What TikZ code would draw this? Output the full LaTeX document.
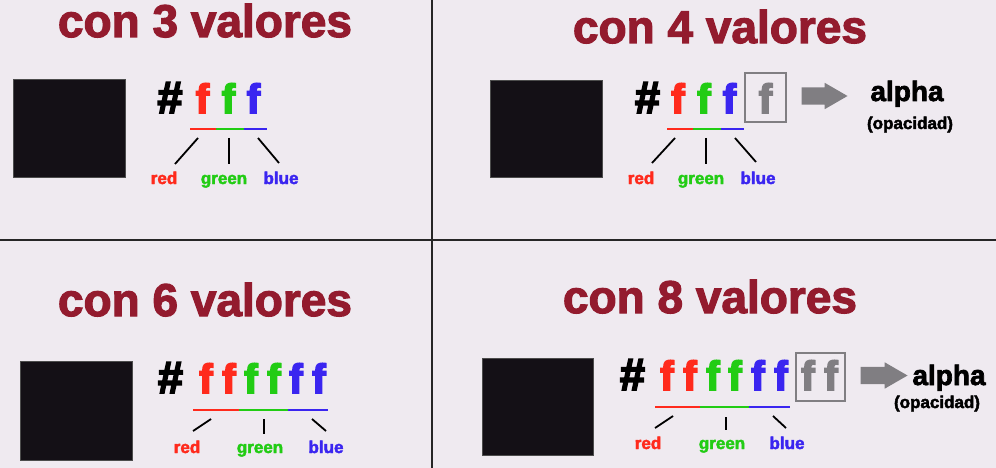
\documentclass[tikz,border=0pt]{standalone}
\usepackage{fontspec}
\setmainfont{Liberation Sans}[BoldFeatures={FakeBold=1.5}]
\newfontfamily\heavyfont{Liberation Sans}[BoldFeatures={FakeBold=4}]
\newfontfamily\titlefont{Liberation Sans}[BoldFeatures={FakeBold=2.5}]
\usepackage{tikz}
\usetikzlibrary{calc}
\usetikzlibrary{arrows}
\usetikzlibrary{shapes.arrows}
\definecolor{titlered}{HTML}{931B2E}
\definecolor{hexred}{HTML}{FF2A1C}
\definecolor{hexgreen}{HTML}{22CC14}
\definecolor{hexblue}{HTML}{3A25F0}
\definecolor{hexgray}{HTML}{807E82}
\definecolor{swatchblack}{HTML}{141016}
\definecolor{paper}{HTML}{EFEAF0}
\tikzstyle{every node}=[font=\bfseries, inner sep=0pt]
\tikzstyle{divider}=[line width=1.6pt, color=black!85]
\tikzstyle{title}=[anchor=base, text=titlered, font=\fontsize{46}{46}\titlefont\bfseries]
\tikzstyle{hexdigit}=[anchor=base, font=\fontsize{41}{41}\heavyfont\bfseries]
\tikzstyle{hashsign}=[anchor=base, font=\fontsize{45}{45}\heavyfont\bfseries]
\tikzstyle{channel}=[anchor=base, font=\fontsize{17}{17}\titlefont\bfseries]
\tikzstyle{swatch}=[anchor=north west, fill=swatchblack, draw=black!70, line width=0.6pt]
\tikzstyle{alphabox}=[draw=hexgray, line width=1.8pt]
\tikzstyle{fatarrow}=[single arrow, fill=hexgray, inner sep=8.5pt, single arrow head extend=4.5pt, single arrow tip angle=60]
\tikzstyle{alphaword}=[anchor=base, font=\fontsize{28}{28}\titlefont\bfseries]
\tikzstyle{opacnote}=[anchor=base, font=\fontsize{17}{17}\titlefont\bfseries]
\tikzstyle{underline}=[line width=2pt]
\tikzstyle{stem}=[line width=1.8pt, color=black]

\begin{document}
\begin{tikzpicture}[x=1pt, y=-1pt, >=latex]
    \fill[paper] (0,0) rectangle (996,468);
    \useasboundingbox (0,0) rectangle (996,468);
    \draw[divider] (432,0) -- (432,468);
    \draw[divider] (0,240) -- (996,240);

    % con 3 valores
    \node[title] (title3) at (205,37) {con 3 valores};
    \node[swatch, minimum width=112pt, minimum height=98pt] (sq3) at (13,79) {};
    \node[hashsign] (hash3) at (170,113) {\#};
    \node[hexdigit, text=hexred] (r3) at (202.5,113) {f};
    \node[hexdigit, text=hexgreen] (g3) at (228.5,113) {f};
    \node[hexdigit, text=hexblue] (b3) at (253.5,113) {f};
    \draw[underline, hexred] (190,129) -- (216,129);
    \draw[underline, hexgreen] (216,129) -- (244,129);
    \draw[underline, hexblue] (244,129) -- (267,129);
    \coordinate (r3top) at (198,138);
    \coordinate (r3end) at (175,164);
    \coordinate (g3top) at (229,138);
    \coordinate (g3end) at (229,164);
    \coordinate (b3top) at (258,138);
    \coordinate (b3end) at (279,163);
    \draw[stem] (r3top) -- (r3end);
    \draw[stem] (g3top) -- (g3end);
    \draw[stem] (b3top) -- (b3end);
    \node[channel, text=hexred] (red3) at (164,184) {red};
    \node[channel, text=hexgreen] (green3) at (224,184) {green};
    \node[channel, text=hexblue] (blue3) at (281,184) {blue};

    % con 4 valores
    \node[title] (title4) at (720,43) {con 4 valores};
    \node[swatch, minimum width=112pt, minimum height=97pt] (sq4) at (490,80) {};
    \node[hashsign] (hash4) at (647.5,113) {\#};
    \node[hexdigit, text=hexred] (r4) at (678,113) {f};
    \node[hexdigit, text=hexgreen] (g4) at (704,113) {f};
    \node[hexdigit, text=hexblue] (b4) at (729.5,113) {f};
    \node[hexdigit, text=hexgray] (a4) at (765.5,113) {f};
    \node[alphabox, minimum width=41pt, minimum height=49pt] (box4) at (765.5,97.5) {};
    \node[fatarrow, minimum height=46pt, minimum width=26pt] (arrow4) at (817,96) {};
    \node[alphaword] (alpha4) at (907,101) {alpha};
    \node[opacnote] (opac4) at (910,129) {(opacidad)};
    \draw[underline, hexred] (667,129) -- (693,129);
    \draw[underline, hexgreen] (693,129) -- (721,129);
    \draw[underline, hexblue] (721,129) -- (744,129);
    \coordinate (r4top) at (675,138);
    \coordinate (r4end) at (652,163);
    \coordinate (g4top) at (706,138);
    \coordinate (g4end) at (706,164);
    \coordinate (b4top) at (735,138);
    \coordinate (b4end) at (756,162);
    \draw[stem] (r4top) -- (r4end);
    \draw[stem] (g4top) -- (g4end);
    \draw[stem] (b4top) -- (b4end);
    \node[channel, text=hexred] (red4) at (641,184) {red};
    \node[channel, text=hexgreen] (green4) at (701,184) {green};
    \node[channel, text=hexblue] (blue4) at (758,184) {blue};

    % con 6 valores
    \node[title] (title6) at (205,316) {con 6 valores};
    \node[swatch, minimum width=112pt, minimum height=99pt] (sq6) at (20,361) {};
    \node[hashsign] (hash6) at (170.5,393) {\#};
    \node[hexdigit, text=hexred] (r6a) at (206,393) {f};
    \node[hexdigit, text=hexred] (r6b) at (229,393) {f};
    \node[hexdigit, text=hexgreen] (g6a) at (251,393) {f};
    \node[hexdigit, text=hexgreen] (g6b) at (274,393) {f};
    \node[hexdigit, text=hexblue] (b6a) at (296,393) {f};
    \node[hexdigit, text=hexblue] (b6b) at (319,393) {f};
    \draw[underline, hexred] (193,410) -- (239,410);
    \draw[underline, hexgreen] (239,410) -- (288,410);
    \draw[underline, hexblue] (288,410) -- (328,410);
    \coordinate (r6top) at (211,419);
    \coordinate (r6end) at (193,431);
    \coordinate (g6top) at (264,419);
    \coordinate (g6end) at (264,434);
    \coordinate (b6top) at (312,419);
    \coordinate (b6end) at (326,431);
    \draw[stem] (r6top) -- (r6end);
    \draw[stem] (g6top) -- (g6end);
    \draw[stem] (b6top) -- (b6end);
    \node[channel, text=hexred] (red6) at (187,453) {red};
    \node[channel, text=hexgreen] (green6) at (260,453) {green};
    \node[channel, text=hexblue] (blue6) at (326,453) {blue};

    % con 8 valores
    \node[title] (title8) at (710,313) {con 8 valores};
    \node[swatch, minimum width=111pt, minimum height=97pt] (sq8) at (482,358) {};
    \node[hashsign] (hash8) at (632.5,390) {\#};
    \node[hexdigit, text=hexred] (r8a) at (667,390) {f};
    \node[hexdigit, text=hexred] (r8b) at (690,390) {f};
    \node[hexdigit, text=hexgreen] (g8a) at (713,390) {f};
    \node[hexdigit, text=hexgreen] (g8b) at (735,390) {f};
    \node[hexdigit, text=hexblue] (b8a) at (758,390) {f};
    \node[hexdigit, text=hexblue] (b8b) at (781,390) {f};
    \node[hexdigit, text=hexgray] (a8a) at (808,390) {f};
    \node[hexdigit, text=hexgray] (a8b) at (831,390) {f};
    \node[alphabox, minimum width=49pt, minimum height=48pt] (box8) at (820.5,377) {};
    \node[fatarrow, minimum height=47pt, minimum width=25pt] (arrow8) at (876.5,375.5) {};
    \node[alphaword] (alpha8) at (949,385) {alpha};
    \node[opacnote] (opac8) at (937,408) {(opacidad)};
    \draw[underline, hexred] (655,407) -- (700,407);
    \draw[underline, hexgreen] (700,407) -- (749,407);
    \draw[underline, hexblue] (749,407) -- (790,407);
    \coordinate (r8top) at (673,416);
    \coordinate (r8end) at (655,428);
    \coordinate (g8top) at (726,417);
    \coordinate (g8end) at (726,430);
    \coordinate (b8top) at (773,416);
    \coordinate (b8end) at (786,428);
    \draw[stem] (r8top) -- (r8end);
    \draw[stem] (g8top) -- (g8end);
    \draw[stem] (b8top) -- (b8end);
    \node[channel, text=hexred] (red8) at (648,449) {red};
    \node[channel, text=hexgreen] (green8) at (722,449) {green};
    \node[channel, text=hexblue] (blue8) at (787,449) {blue};
\end{tikzpicture}
\end{document}
